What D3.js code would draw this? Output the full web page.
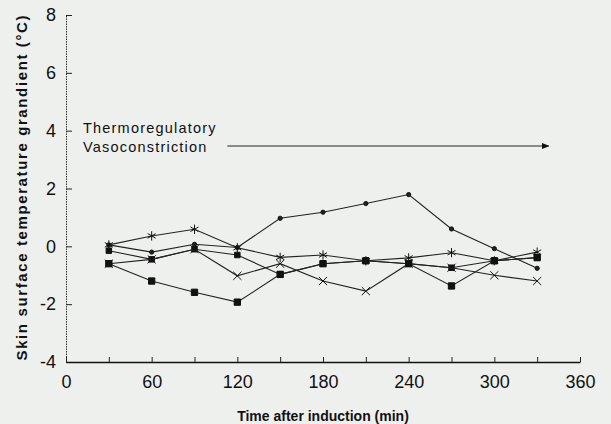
<!DOCTYPE html>
<html lang="en">
<head>
<meta charset="UTF-8">
<title>Skin surface temperature gradient</title>
<script src="https://d3js.org/d3.v7.min.js"></script>
<style>
  body { margin: 0; background: #eef0ee; }
  svg { display: block; }
  text { font-family: "Liberation Sans", Arial, sans-serif; fill: #111; }
</style>
</head>
<body>
<svg id="chart" width="611" height="424"></svg>
<script>
// time points (min after induction)
const times = [30, 60, 90, 120, 150, 180, 210, 240, 270, 300, 330];

// gradient per series (°C)
const seriesDot      = [0.05, -0.2, 0.07, -0.04, 0.97, 1.18, 1.48, 1.79, 0.6, -0.08, -0.76];
const seriesStar     = [0.05, 0.36, 0.59, -0.05, -0.38, -0.3, -0.5, -0.4, -0.22, -0.5, -0.2];
const seriesFilled   = [-0.15, -0.45, -0.1, -0.3, -0.97, -0.6, -0.5, -0.6, -0.74, -0.5, -0.39];
const seriesAsterisk = [-0.6, -0.45, -0.1, -1.02, -0.6, -1.2, -1.55, -0.6, -0.74, -1.0, -1.2];
const seriesSquare   = [-0.6, -1.2, -1.59, -1.93, -0.97, -0.6, -0.5, -0.6, -1.37, -0.5, -0.39];

const xTicks = [0, 30, 60, 90, 120, 150, 180, 210, 240, 270, 300, 330, 360];
const yTicks = [-4, -2, 0, 2, 4, 6, 8];

const svg = d3.select("#chart");

const x = d3.scaleLinear().domain([0, 360]).range([66, 580]);
const y = d3.scaleLinear().domain([-4, 8]).range([362, 15]);

// axes
const yAxis = svg.append("g")
    .attr("transform", `translate(${x(0)},0)`)
    .call(d3.axisLeft(y).tickValues(yTicks)
        .tickFormat(d => String(d))   // plain hyphen like the original
        .tickSizeInner(-6).tickSizeOuter(0).tickPadding(10));
yAxis.select(".domain").attr("stroke", "#333").attr("stroke-dasharray", "1.5,1");
yAxis.selectAll("line").attr("stroke", "#222");
yAxis.selectAll("text")
    .style("font-size", "18px")
    .style("font-family", "'Liberation Sans', Arial, sans-serif");

const xAxis = svg.append("g")
    .attr("transform", `translate(0,${y(-4)})`)
    .call(d3.axisBottom(x)
        .tickValues(xTicks)
        .tickFormat(d => d % 60 === 0 ? d : "")
        .tickSizeInner(-5).tickSizeOuter(0).tickPadding(13));
xAxis.select(".domain").attr("stroke", "#111").attr("stroke-width", 1.3);
xAxis.selectAll("line").attr("stroke", "#222");
xAxis.selectAll("text")
    .style("font-size", "18px")
    .style("font-family", "'Liberation Sans', Arial, sans-serif");

// axis titles
svg.append("text")
    .attr("x", 323).attr("y", 421)
    .attr("text-anchor", "middle")
    .style("font-size", "14px").style("font-weight", "bold")
    .text("Time after induction (min)");

svg.append("text")
    .attr("transform", "translate(27,188) rotate(-90)")
    .attr("text-anchor", "middle")
    .attr("textLength", 345).attr("lengthAdjust", "spacing")
    .style("font-size", "15px").style("font-weight", "bold")
    .text("Skin surface temperature grandient (°C)");

// annotation
svg.append("text").attr("x", 83).attr("y", 133)
    .style("font-size", "14.5px").style("letter-spacing", "1.2px")
    .text("Thermoregulatory");
svg.append("text").attr("x", 83).attr("y", 152)
    .style("font-size", "14.5px").style("letter-spacing", "1.2px")
    .text("Vasoconstriction");

svg.append("defs").append("marker")
    .attr("id", "arrow").attr("viewBox", "0 0 10 10")
    .attr("refX", 9).attr("refY", 5)
    .attr("markerWidth", 7).attr("markerHeight", 7)
    .attr("orient", "auto")
  .append("path").attr("d", "M0,1 L10,5 L0,9 Z").attr("fill", "#111");

svg.append("line")
    .attr("x1", x(113)).attr("x2", x(338))
    .attr("y1", 146).attr("y2", 146)
    .attr("stroke", "#222").attr("stroke-width", 1.1)
    .attr("marker-end", "url(#arrow)");

// series
const series = [
  {values: seriesDot,      symbol: d3.symbolCircle,   size: 14, fill: "#222"},
  {values: seriesStar,     symbol: d3.symbolAsterisk, size: 60, fill: "none"},
  {values: seriesFilled,   symbol: d3.symbolSquare,   size: 30, fill: "#111"},
  {values: seriesAsterisk, symbol: d3.symbolTimes,    size: 45, fill: "none"},
  {values: seriesSquare,   symbol: d3.symbolSquare,   size: 40, fill: "#111"}
];

const line = d3.line().x(d => x(d[0])).y(d => y(d[1]));

series.forEach(s => {
  const pts = times.map((t, i) => [t, s.values[i]]);
  svg.append("path")
      .datum(pts)
      .attr("fill", "none")
      .attr("stroke", "#222")
      .attr("stroke-width", 1.1)
      .attr("d", line);

  svg.append("g").selectAll("path")
      .data(pts)
      .join("path")
      .attr("transform", d => `translate(${x(d[0])},${y(d[1])})`)
      .attr("d", d3.symbol().type(s.symbol).size(s.size))
      .attr("fill", s.fill)
      .attr("stroke", "#111")
      .attr("stroke-width", 1);
});
</script>
</body>
</html>
